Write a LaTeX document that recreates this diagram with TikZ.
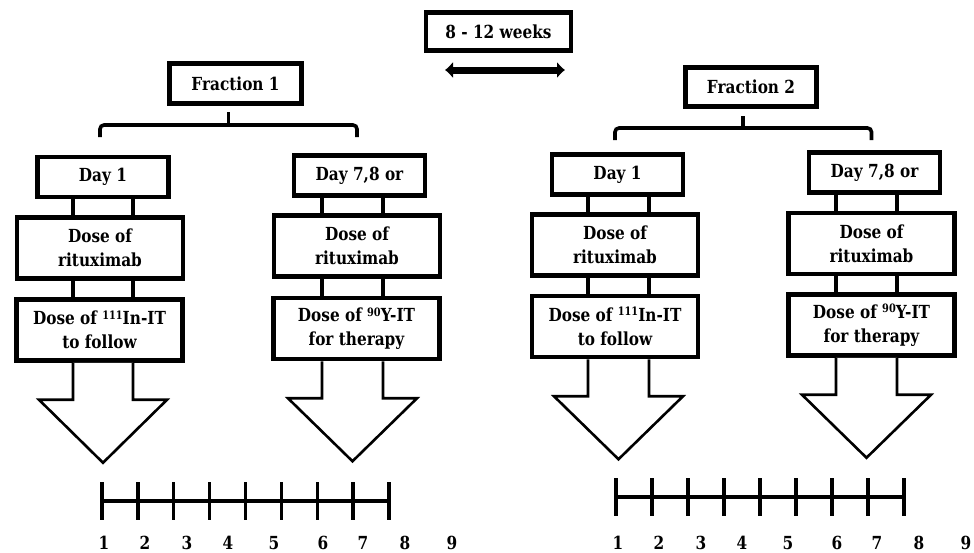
\documentclass[tikz,border=0pt]{standalone}
\usepackage{fontspec}
\setmainfont{DejaVu Serif}[FakeStretch=0.85]
\usetikzlibrary{arrows.meta,calc}
\newcommand{\isotope}[1]{\raisebox{5.5pt}{\fontsize{11.5}{12}\selectfont #1}}

\begin{document}
\begin{tikzpicture}[x=1pt,y=-1pt,>=Latex,
  font=\fontsize{18}{24}\selectfont\bfseries,
  stepbox/.style={draw,line width=4.5pt,inner sep=0pt,align=center},
  daybox/.style={stepbox,minimum width=131pt,minimum height=40pt},
  dosebox/.style={stepbox,minimum width=166pt,minimum height=61pt},
  link/.style={line width=3.2pt},
  bracket/.style={line width=3.6pt,rounded corners=4pt},
  blockarrow/.style={draw,fill=white,line width=2.6pt},
  axis/.style={line width=3.3pt}]
  \useasboundingbox (0,0) rectangle (974,552);

  % interval between the two fractions
  \node[stepbox,minimum width=145pt,minimum height=38pt] (weeks) at (498.5,31.5) {8 - 12 weeks};
  \coordinate (gapL) at (445,70);
  \coordinate (gapR) at (565,70);
  \draw[{Latex[length=8pt,width=17pt]}-{Latex[length=8pt,width=17pt]},line width=7pt] (gapL) -- (gapR);

  \node[stepbox,minimum width=132pt,minimum height=40pt] (frac1) at (235.5,83.5) {Fraction 1};
  \node[stepbox,minimum width=131pt,minimum height=39pt] (frac2) at (751,87) {Fraction 2};

  % fraction 1
  \node[daybox] (dayA1) at (103,177) {Day 1};
  \node[dosebox] (ritA1) at (100,248) {Dose of\\rituximab};
  \node[dosebox] (radA1) at (99.5,330) {Dose of \isotope{111}In-IT\\to follow};
  \node[daybox] (dayB1) at (359.5,175.5) {Day 7,8 or};
  \node[dosebox] (ritB1) at (357,246) {Dose of\\rituximab};
  \node[dosebox] (radB1) at (356.5,328.5) {Dose of \isotope{90}Y-IT\\for therapy};

  % fraction 2
  \node[daybox] (dayA2) at (617.5,174.5) {Day 1};
  \node[dosebox] (ritA2) at (615,245) {Dose of\\rituximab};
  \node[dosebox] (radA2) at (615,326.5) {Dose of \isotope{111}In-IT\\to follow};
  \node[daybox] (dayB2) at (874.5,172.5) {Day 7,8 or};
  \node[dosebox] (ritB2) at (871.5,243.5) {Dose of\\rituximab};
  \node[dosebox] (radB2) at (871.5,325) {Dose of \isotope{90}Y-IT\\for therapy};

  % brackets
  \draw[bracket] (ritA1.north |- 0,137) -- (ritA1.north |- 0,125) -- (ritB1.north |- 0,125) -- (ritB1.north |- 0,137);
  \draw[bracket] ($(ritA1.north |- 0,125)!0.5!(ritB1.north |- 0,125)$) -- ++(0,-13);
  \draw[bracket] (ritA2.north |- 0,140) -- (ritA2.north |- 0,128) -- (ritB2.north |- 0,128) -- (ritB2.north |- 0,140);
  \draw[bracket] ($(ritA2.north |- 0,128)!0.5!(ritB2.north |- 0,128)$) -- ++(0,-12);

  % links and block arrows
  \foreach \col/\lx/\rx in {A1/73/133,B1/322/383,A2/588/649,B2/836/897}{
    \draw[link] (\lx,0 |- day\col.south) -- (\lx,0 |- rit\col.north);
    \draw[link] (\rx,0 |- day\col.south) -- (\rx,0 |- rit\col.north);
    \draw[link] (\lx,0 |- rit\col.south) -- (\lx,0 |- rad\col.north);
    \draw[link] (\rx,0 |- rit\col.south) -- (\rx,0 |- rad\col.north);
    \draw[blockarrow] (\lx,0 |- rad\col.south) -- ++(0,37) -- ++(-34,0)
      -- ++({(\rx-\lx)/2+34},63) -- ++({(\rx-\lx)/2+34},-63) -- ++(-34,0)
      -- (\rx,0 |- rad\col.south);
  }

  % time lines
  \draw[axis] (102,501) -- (389,501);
  \foreach \t in {0,...,8} \draw[axis] ({102+35.875*\t},482) -- ++(0,38);
  \draw[axis] (616,497) -- (904,497);
  \foreach \t in {0,...,8} \draw[axis] ({616+36*\t},478) -- ++(0,38);
  \foreach \n/\dx in {1/2,2/43,3/85,4/126,5/172,6/221,7/261,8/303,9/350}{
    \node[anchor=base,inner sep=0pt] (dayL\n) at ({102+\dx},549) {\n};
    \node[anchor=base,inner sep=0pt] (dayR\n) at ({616+\dx},549) {\n};
  }
\end{tikzpicture}
\end{document}
